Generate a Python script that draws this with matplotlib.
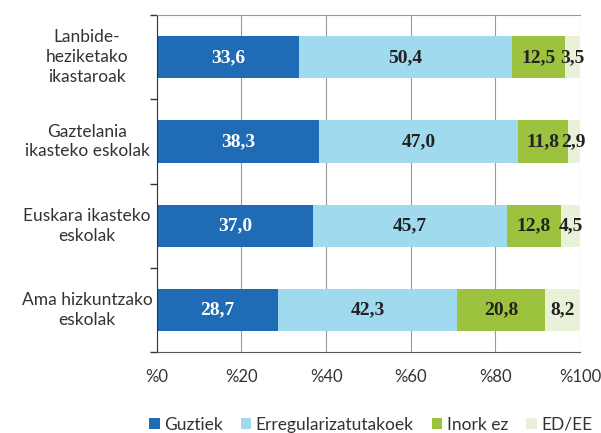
import numpy as np
import matplotlib.pyplot as plt
from matplotlib.transforms import blended_transform_factory

# Data
categories = ['Lanbide-\nheziketako\nikastaroak',
              'Gaztelania\nikasteko eskolak',
              'Euskara ikasteko\neskolak',
              'Ama hizkuntzako\neskolak']
series_names = ['Guztiek', 'Erregularizatutakoek', 'Inork ez', 'ED/EE']
guztiek = [33.6, 38.3, 37.0, 28.7]
erregular = [50.4, 47.0, 45.7, 42.3]
inork_ez = [12.5, 11.8, 12.8, 20.8]
ed_ee = [3.5, 2.9, 4.5, 8.2]
xtick_labels = ['%0', '%20', '%40', '%60', '%80', '%100']

colors = ['#1f6bb5', '#9fdaef', '#9dc33e', '#eaf1d9']
text_colors = ['white', '#222222', '#222222', '#222222']
label_font = 'Lato'

fig = plt.figure(figsize=(6.01, 4.33), dpi=100)
ax = fig.add_axes([0.261, 0.187, 0.704, 0.778])

y = np.arange(len(categories))
left = np.zeros(len(categories))
for vals, name, c, tc in zip([guztiek, erregular, inork_ez, ed_ee],
                             series_names, colors, text_colors):
    bars = ax.barh(y, vals, left=left, height=0.5, color=c, label=name, zorder=2)
    labels = [f'{v:.1f}'.replace('.', ',') for v in vals]
    ax.bar_label(bars, labels=labels, label_type='center', color=tc,
                 fontsize=14, fontweight='bold', family='Liberation Serif')
    left += np.array(vals)

ax.set_xlim(0, 100)
ax.set_ylim(len(categories) - 0.5, -0.5)
ax.set_xticks(np.arange(0, 101, 20))
ax.set_xticklabels(xtick_labels, family=label_font, fontsize=12, color='#333333')
ax.tick_params(axis='x', length=0, pad=12)
ax.xaxis.grid(True, color='#999999', linewidth=0.8, zorder=0)

# category labels, boundary ticks on the y axis
ax.set_yticks(np.arange(-0.5, len(categories), 1.0))
ax.set_yticklabels([])
ax.tick_params(axis='y', length=5, width=1, color='#333333')
trans = blended_transform_factory(ax.transAxes, ax.transData)
for yi, cat in zip(y, categories):
    ax.text(-0.165, yi, cat, ha='center', va='center', family=label_font,
            fontsize=12.5, color='#333333', linespacing=1.3,
            transform=trans)

ax.spines['top'].set_color('#999999')
ax.spines['top'].set_linewidth(0.8)
ax.spines['right'].set_visible(False)
ax.spines['left'].set_color('#333333')
ax.spines['bottom'].set_color('#555555')

leg = fig.legend(loc='lower center', bbox_to_anchor=(0.617, -0.035), ncol=4,
                 frameon=False, handlelength=0.6, handleheight=0.6,
                 handletextpad=0.25, columnspacing=1.05,
                 prop={'family': label_font, 'size': 12.5})
for t in leg.get_texts():
    t.set_color('#333333')

fig.savefig('out.png', dpi=100)
